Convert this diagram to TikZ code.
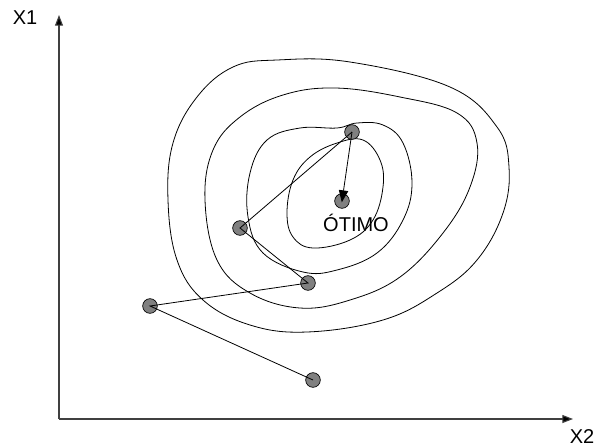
\documentclass[tikz,border=0pt]{standalone}
\usepackage{fontspec}
\setmainfont{Liberation Sans}
\usetikzlibrary{arrows.meta}
\tikzset{
  ponto/.style={circle,draw=black,line width=0.5pt,fill=black!50,minimum size=11pt,inner sep=0pt},
  eixo/.style={line width=0.8pt,draw=black!75,-{Triangle[length=8pt,width=6pt,fill=black]}},
  passo/.style={line width=0.6pt},
  curva/.style={line width=0.6pt,smooth cycle,tension=0.65},
  rotulo/.style={font=\fontsize{15}{16}\selectfont,inner sep=0pt}
}
\begin{document}
\begin{tikzpicture}[x=0.75pt,y=-0.75pt]
      \useasboundingbox (0,0) rectangle (595,447);
      % eixos
      \coordinate (o) at (59,419);
      \coordinate (ytip) at (59,15);
      \coordinate (xtip) at (573,419);
      \draw[eixo] (o) -- (ytip);
      \draw[eixo] (o) -- (xtip);
      \node[rotulo] (x1) at (25,18) {X1};
      \node[rotulo] (x2) at (582,437) {X2};
      % curvas de nivel
      \draw[curva] plot coordinates {(277,60) (350,62) (450,87) (497,127) (509,167) (503,213) (477,260) (437,293) (383,320) (307,332) (250,325) (203,300) (177,260) (168,200) (173,143) (197,97) (233,67)};
      \draw[curva] plot coordinates {(335,88) (400,97) (457,113) (477,143) (470,187) (443,233) (400,277) (350,300) (300,308) (250,293) (217,260) (205,200) (213,150) (240,117) (283,95)};
      \draw[curva] plot coordinates {(357,123) (383,125) (403,143) (412,183) (403,220) (377,253) (337,270) (303,272) (263,253) (248,217) (250,173) (267,140) (300,128) (337,128)};
      \draw[curva] plot coordinates {(363,140) (380,160) (383,187) (373,220) (350,240) (313,248) (293,237) (287,213) (293,180) (310,157) (337,143)};
      % pontos da busca
      \foreach \n/\x/\y in {p1/313/380,p2/150/306,p3/308/283,p4/240/228,p5/352/132,otimo/342/201}{
        \node[ponto] (\n) at (\x,\y) {};
      }
      \node[rotulo] (lbl) at (356,223) {ÓTIMO};
      \draw[passo] (p1.center) -- (p2.center) -- (p3.center) -- (p4.center) -- (p5.center);
      \draw[passo,-{Triangle[length=9pt,width=7pt]},shorten >=-1pt] (p5.center) -- (otimo.center);
    \end{tikzpicture}
\end{document}
